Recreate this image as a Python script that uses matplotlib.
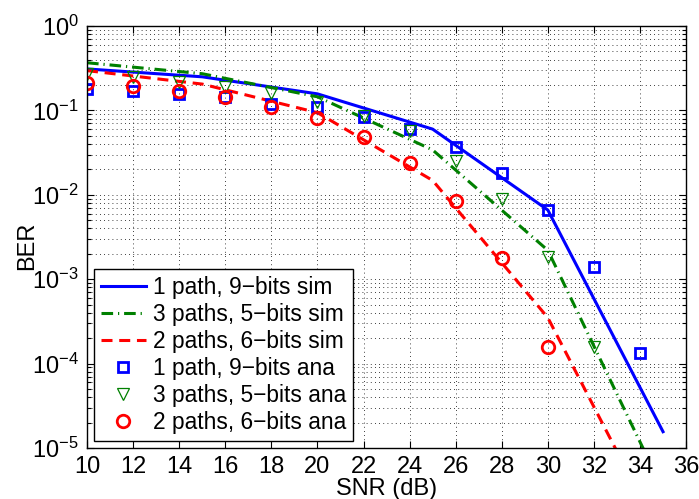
import matplotlib
matplotlib.use("Agg")
import matplotlib.pyplot as plt
from matplotlib.ticker import LogLocator, MultipleLocator, NullFormatter

plt.rcParams['font.family'] = ['Liberation Sans', 'DejaVu Sans']
plt.rcParams['mathtext.fontset'] = 'custom'
plt.rcParams['mathtext.rm'] = 'Liberation Sans'
plt.rcParams['font.size'] = 17

# simulated curves (lines)
snr_sim = [10, 15, 20, 25, 30, 35]
ber_1p_sim = [0.31, 0.25, 0.157, 0.060, 0.0066, 1.56e-5]
ber_3p_sim = [0.367, 0.272, 0.145, 0.034, 0.0022, 3.2e-6]
ber_2p_sim = [0.296, 0.205, 0.094, 0.0148, 3.5e-4, 8e-7]

# analytical points (markers)
snr_ana = [10, 12, 14, 16, 18, 20, 22, 24, 26, 28, 30, 32, 34]
ber_1p_ana = [0.178, 0.171, 0.155, 0.143, 0.119, 0.109, 0.084, 0.0597,
              0.037, 0.0183, 0.0066, 0.00138, 1.32e-4]
ber_3p_ana = [0.268, 0.247, 0.219, 0.191, 0.159, 0.127, 0.086, 0.0575,
              0.0254, 0.0089, 0.00182, 1.58e-4]
ber_2p_ana = [0.213, 0.195, 0.171, 0.143, 0.111, 0.0805, 0.049, 0.024,
              0.0085, 0.00177, 1.58e-4]

labels = ["1 path, 9\u2212bits sim", "3 paths, 5\u2212bits sim", "2 paths, 6\u2212bits sim",
          "1 path, 9\u2212bits ana", "3 paths, 5\u2212bits ana", "2 paths, 6\u2212bits ana"]

blue, green, red = (0, 0, 1), (0, 0.5, 0), (1, 0, 0)

fig = plt.figure(figsize=(6.99, 4.99), dpi=100)
ax = fig.add_axes([0.1245, 0.1022, 0.857, 0.8457])

ax.plot(snr_sim, ber_1p_sim, color=blue, lw=2.2, ls='-', label=labels[0])
ax.plot(snr_sim, ber_3p_sim, color=green, lw=2.2, ls=(0, (3.8, 1.6, 0.4, 1.6)), label=labels[1])
ax.plot(snr_sim, ber_2p_sim, color=red, lw=2.2, ls=(0, (3.6, 2.2)), label=labels[2])
ax.plot(snr_ana[:len(ber_1p_ana)], ber_1p_ana, ls='none', marker='s', ms=7,
        mfc='none', mec=blue, mew=2, label=labels[3])
ax.plot(snr_ana[:len(ber_3p_ana)], ber_3p_ana, ls='none', marker='v', ms=9,
        mfc='none', mec=green, mew=0.9, label=labels[4])
ax.plot(snr_ana[:len(ber_2p_ana)], ber_2p_ana, ls='none', marker='o', ms=9,
        mfc='none', mec=red, mew=2, label=labels[5])

ax.set_yscale('log')
ax.set_xlim(10, 36)
ax.set_ylim(1e-5, 1)
ax.xaxis.set_major_locator(MultipleLocator(2))
ax.yaxis.set_major_locator(LogLocator(base=10, numticks=10))
ax.yaxis.set_minor_locator(LogLocator(base=10, subs=range(2, 10), numticks=10))
ax.yaxis.set_minor_formatter(NullFormatter())

ax.tick_params(which='both', direction='in', top=True, right=True, width=0.8)
ax.tick_params(which='major', length=5, pad=6)
ax.tick_params(which='minor', length=3)
for s in ax.spines.values():
    s.set_linewidth(1.0)

ax.grid(True, which='major', axis='x', color='k', lw=0.6, ls=(0, (1, 4)))
ax.grid(True, which='both', axis='y', color='k', lw=0.6, ls=(0, (1, 4)))

ax.set_xlabel("SNR (dB)")
ax.xaxis.set_label_coords(0.5, -0.072)
ax.set_ylabel("BER")
ax.yaxis.set_label_coords(-0.082, 0.48)

leg = ax.legend(loc='lower left', borderaxespad=0.3, fancybox=False, framealpha=1,
                edgecolor='k', handlelength=2.0, handletextpad=0.3, labelspacing=0.18,
                borderpad=0.3, fontsize=16.4)
leg.get_frame().set_linewidth(1.0)

fig.savefig("out.png", dpi=100)
